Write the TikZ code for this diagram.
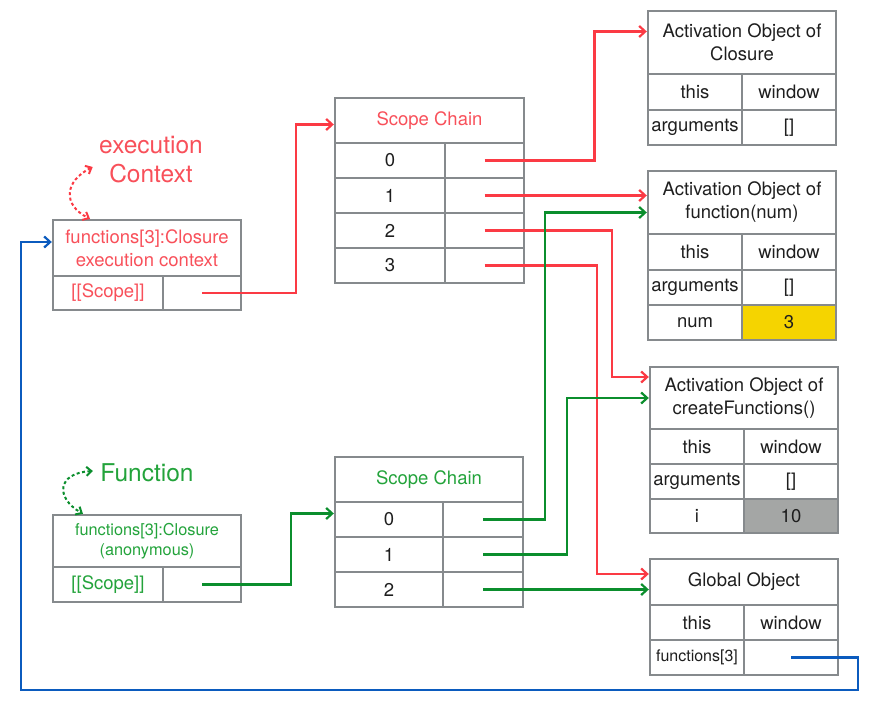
\documentclass[tikz,border=0pt]{standalone}
\usepackage{fontspec}
\setmainfont{TeX Gyre Heros}
\usetikzlibrary{arrows.meta}
\definecolor{frame}{HTML}{868A8D}
\definecolor{ink}{HTML}{1E1E1E}
\definecolor{redline}{HTML}{FB3A44}
\definecolor{redtext}{HTML}{F8505A}
\definecolor{greenline}{HTML}{0B8E2D}
\definecolor{greentext}{HTML}{23A33B}
\definecolor{blueline}{HTML}{0B5BBE}
\definecolor{gold}{HTML}{F5D400}
\definecolor{stone}{HTML}{A4A6A5}
\tikzset{cell/.style={draw=frame,line width=2.4pt,align=center,inner sep=1pt,text=ink,font=\fontsize{18.5}{23}\selectfont},flow/.style={-{Straight Barb[length=6pt,width=11pt]},line width=2.2pt},ring/.style={{Straight Barb[length=5pt,width=9pt]}-{Straight Barb[length=5pt,width=9pt]},line width=2pt,dash pattern=on 3pt off 2.5pt},title/.style={align=center,font=\fontsize{24.5}{29}\selectfont}}

\begin{document}
\begin{tikzpicture}[x=1pt,y=-1pt]
\useasboundingbox (0,0) rectangle (882,708);
% execution context of the closure
\node[title,text=redtext] (ect) at (151,160) {execution\\Context};
\node[cell,text=redtext,minimum width=188,minimum height=56] (ech) at (147,248) {functions[3]:Closure\\execution context};
\node[cell,text=redtext,minimum width=110,minimum height=34] (ecs) at (108,293) {[[Scope]]};
\node[cell,minimum width=78,minimum height=34] (ecv) at (202,293) {};
% scope chain of the execution context
\node[cell,text=redtext,minimum width=189,minimum height=45] (sch) at (429.5,120.5) {Scope Chain};
\node[cell,minimum width=110,minimum height=35] (sc0) at (390,160.5) {0};\node[cell,minimum width=79,minimum height=35] (sc0v) at (484.5,160.5) {};
\node[cell,minimum width=110,minimum height=35] (sc1) at (390,195.5) {1};\node[cell,minimum width=79,minimum height=35] (sc1v) at (484.5,195.5) {};
\node[cell,minimum width=110,minimum height=35] (sc2) at (390,230.5) {2};\node[cell,minimum width=79,minimum height=35] (sc2v) at (484.5,230.5) {};
\node[cell,minimum width=110,minimum height=35] (sc3) at (390,265.5) {3};\node[cell,minimum width=79,minimum height=35] (sc3v) at (484.5,265.5) {};
% activation object of the closure
\node[cell,minimum width=188,minimum height=63] (aoc) at (742,42.5) {Activation Object of\\Closure};
\node[cell,minimum width=94,minimum height=36] (aoc1) at (695,92) {this};\node[cell,minimum width=94,minimum height=36] (aoc1v) at (789,92) {window};
\node[cell,minimum width=94,minimum height=35] (aoc2) at (695,127.5) {arguments};\node[cell,minimum width=94,minimum height=35] (aoc2v) at (789,127.5) {[]};
% activation object of function(num)
\node[cell,minimum width=188,minimum height=63] (aon) at (742,202.5) {Activation Object of\\function(num)};
\node[cell,minimum width=94,minimum height=36] (aon1) at (695,252) {this};\node[cell,minimum width=94,minimum height=36] (aon1v) at (789,252) {window};
\node[cell,minimum width=94,minimum height=35] (aon2) at (695,287.5) {arguments};\node[cell,minimum width=94,minimum height=35] (aon2v) at (789,287.5) {[]};
\node[cell,minimum width=94,minimum height=35] (aon3) at (695,322.5) {num};\node[cell,fill=gold,minimum width=94,minimum height=35] (aon3v) at (789,322.5) {3};
% activation object of createFunctions()
\node[cell,minimum width=188,minimum height=62] (aof) at (744,398) {Activation Object of\\createFunctions()};
\node[cell,minimum width=94,minimum height=35] (aof1) at (697,446.5) {this};\node[cell,minimum width=94,minimum height=35] (aof1v) at (791,446.5) {window};
\node[cell,minimum width=94,minimum height=35] (aof2) at (697,481.5) {arguments};\node[cell,minimum width=94,minimum height=35] (aof2v) at (791,481.5) {[]};
\node[cell,minimum width=94,minimum height=34] (aof3) at (697,516) {i};\node[cell,fill=stone,minimum width=94,minimum height=34] (aof3v) at (791,516) {10};
% global object
\node[cell,minimum width=188,minimum height=46] (glo) at (744,582) {Global Object};
\node[cell,minimum width=94,minimum height=35] (glo1) at (697,622.5) {this};\node[cell,minimum width=94,minimum height=35] (glo1v) at (791,622.5) {window};
\node[cell,font=\fontsize{16}{20}\selectfont,minimum width=94,minimum height=35] (glo2) at (697,657.5) {functions[3]};\node[cell,minimum width=94,minimum height=35] (glv) at (791,657.5) {};
% the anonymous function
\node[title,text=greentext] (fnt) at (147,473) {Function};
\node[cell,text=greentext,font=\fontsize{16.3}{19.5}\selectfont,minimum width=188,minimum height=52] (fnh) at (147,541) {functions[3]:Closure\\(anonymous)};
\node[cell,text=greentext,minimum width=110,minimum height=35] (fns) at (108,584.5) {[[Scope]]};
\node[cell,minimum width=78,minimum height=35] (fnv) at (202,584.5) {};
% scope chain of the function
\node[cell,text=greentext,minimum width=188,minimum height=45] (gsh) at (429,479.5) {Scope Chain};
\node[cell,minimum width=108,minimum height=35] (gs0) at (389,519.5) {0};\node[cell,minimum width=80,minimum height=35] (gs0v) at (483,519.5) {};
\node[cell,minimum width=108,minimum height=35] (gs1) at (389,554.5) {1};\node[cell,minimum width=80,minimum height=35] (gs1v) at (483,554.5) {};
\node[cell,minimum width=108,minimum height=35] (gs2) at (389,589.5) {2};\node[cell,minimum width=80,minimum height=35] (gs2v) at (483,589.5) {};
% links
\draw[ring,redline] ([xshift=-3pt,yshift=-7pt]ect.west) .. controls +(-28,14) and +(-28,-14) .. ([xshift=-57pt]ech.north);
\draw[ring,greenline] ([xshift=-4pt,yshift=2pt]fnt.west) .. controls +(-36,2) and +(-28,-16) .. ([xshift=-64pt]fnh.north);
\draw[flow,redline] (ecv.center) -- ++(94,0) |- ([yshift=-4pt]sch.west);
\draw[flow,redline] (sc0v.center) -- ++(110,0) |- ([yshift=11pt]aoc.west);
\draw[flow,redline] (sc1v.center) -- (sc1v.center -| aon.west);
\draw[flow,redline] (sc2v.center) -- ++(127.5,0) |- ([yshift=21pt]aof.west);
\draw[flow,redline] (sc3v.center) -- ++(112.5,0) |- ([yshift=8pt]glo.west);
\draw[flow,greenline] (fnv.center) -- ++(89,0) |- ([yshift=6pt]gs0.west);
\draw[flow,greenline] (gs0v.center) -- ++(62,0) |- ([yshift=-10pt]aon.west);
\draw[flow,greenline] (gs1v.center) -- ++(84,0) |- (aof.west);
\draw[flow,greenline] (gs2v.center) -- (gs2v.center -| glo.west);
\draw[flow,blueline] (glv.center) -- ++(67,0) -- ++(0,32.5) -| ([xshift=-31pt,yshift=6pt]ech.west) -- ([yshift=6pt]ech.west);
\end{tikzpicture}
\end{document}
